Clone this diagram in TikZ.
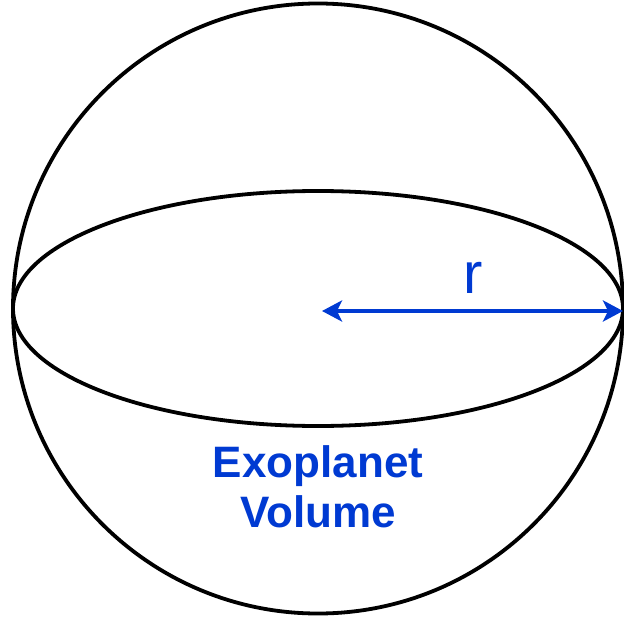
\documentclass[tikz,border=0pt]{standalone}
\usepackage{fontspec}
\setmainfont{Liberation Sans}
\usetikzlibrary{arrows.meta,shapes.geometric}
\definecolor{arrowblue}{RGB}{0,58,210}
\tikzset{
  outline/.style={draw=black,line width=3.8bp},
  radiusarrow/.style={draw=arrowblue,line width=3.8bp,{Stealth[length=20bp,width=21bp,inset=5bp]}-{Stealth[length=20bp,width=21bp,inset=5bp]}},
  bluetext/.style={text=arrowblue,font=\bfseries\fontsize{44bp}{50bp}\selectfont,align=center,inner sep=0pt}
}
\begin{document}
\begin{tikzpicture}[x=1bp,y=-1bp]
\useasboundingbox (0,0) rectangle (624,617);
\node[outline,circle,minimum size=610bp,inner sep=0pt] (sphere) at (318,308.5) {};
\node[outline,ellipse,minimum width=610bp,minimum height=235bp,inner sep=0pt] (equator) at (318,308.5) {};
\coordinate (centre) at (322,311);
\coordinate (rim) at (623,311);
\draw[radiusarrow] (centre) -- (rim);
\node[text=arrowblue,font=\fontsize{58bp}{58bp}\selectfont,anchor=base,inner sep=0pt] (rlabel) at (473,293) {r};
\node[bluetext,anchor=base] (vol1) at (318,477) {Exoplanet};
\node[bluetext,anchor=base] (vol2) at (318,527) {Volume};
\end{tikzpicture}
\end{document}
